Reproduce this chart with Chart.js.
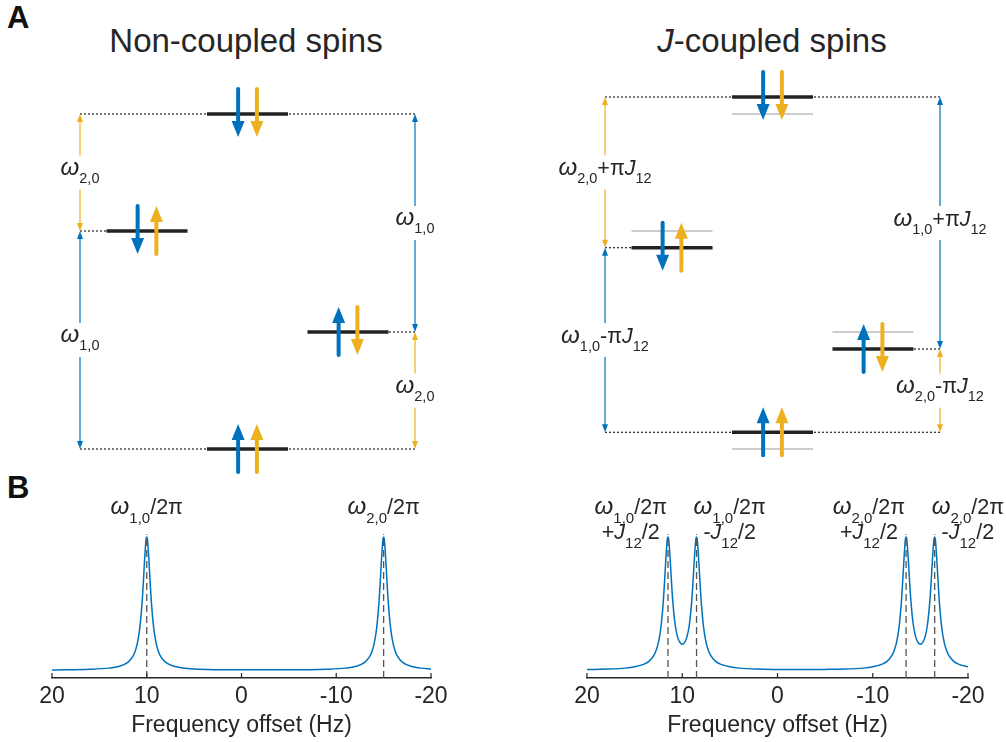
<!DOCTYPE html>
<html lang="en">
<head>
<meta charset="UTF-8">
<title>Non-coupled and J-coupled spins</title>
<script src="https://cdn.jsdelivr.net/npm/chart.js@4"></script>
<style>
  body { margin: 0; width: 1006px; height: 742px; background: #fff; position: relative; overflow: hidden;
         font-family: "Liberation Sans", Arial, Helvetica, sans-serif; color: #262626; }
  canvas { position: absolute; }
  .panel { position: absolute; font-weight: bold; font-size: 31px; line-height: 1; color: #111; }
  .title { position: absolute; font-size: 33px; line-height: 1; transform: translateX(-50%); white-space: nowrap; }
</style>
</head>
<body>
<div class="panel" style="left:7px;top:2px">A</div>
<div class="panel" style="left:7px;top:472px">B</div>
<div class="title" style="left:246px;top:24px">Non-coupled spins</div>
<div class="title" style="left:772px;top:24px"><i>J</i>-coupled spins</div>

<canvas id="diagFree" width="460" height="420" style="left:20px;top:60px"></canvas>
<canvas id="diagJ" width="460" height="420" style="left:545px;top:60px"></canvas>
<canvas id="specFree" width="470" height="260" style="left:0px;top:480px"></canvas>
<canvas id="specJ" width="471" height="260" style="left:535px;top:480px"></canvas>

<script>
const FONT = '"Liberation Sans", Arial, Helvetica, sans-serif';
const INK = '#262626';
const BLUE = '#0072BD';
const YELLOW = '#EDB120';

// ---- panel A: spin states, index 0 = αα, 1 = αβ, 2 = βα, 3 = ββ
const stateNames = ['αα', 'αβ', 'βα', 'ββ'];
const energyFree = [0, 1.17, 2.18, 3.35];
const energyJ = [0.167, 1.0, 2.013, 3.52];
const stateColumn = [5, 8, 2, 5];
const spin1Up = [true, true, false, false];
const spin2Up = [true, false, true, false];

// transitions (double arrows)
const transUpper = [3, 2, 3, 1];
const transLower = [2, 0, 1, 0];
const transColumn = [0, 0, 10, 10];
const transSpin = [2, 1, 1, 2];
const transLabelFree = ['*ω*_2,0_', '*ω*_1,0_', '*ω*_1,0_', '*ω*_2,0_'];
const transLabelJ = ['*ω*_2,0_+π*J*_12_', '*ω*_1,0_-π*J*_12_', '*ω*_1,0_+π*J*_12_', '*ω*_2,0_-π*J*_12_'];

// ---- panel B: spectra (Hz, relative intensity)
const freqFree = [-20, -19, -18, -17, -16.5, -16.25, -16, -15.75, -15.5, -15.35, -15.25, -15.1, -15.05, -15,
  -14.95, -14.9, -14.75, -14.65, -14.5, -14.25, -14, -13.75, -13.5, -13, -12, -11, -9, -5, 0, 5, 7, 8, 8.5,
  8.75, 9, 9.25, 9.5, 9.65, 9.75, 9.9, 9.95, 10, 10.05, 10.1, 10.25, 10.35, 10.5, 10.75, 11, 11.25, 11.5,
  12, 13, 14, 16, 20];
const ampFree = [0.064, 0.070, 0.081, 0.111, 0.150, 0.185, 0.244, 0.346, 0.527, 0.689, 0.811, 0.964, 0.991, 1.0,
  0.991, 0.964, 0.811, 0.689, 0.527, 0.346, 0.244, 0.185, 0.150, 0.111, 0.081, 0.070, 0.062, 0.058, 0.058, 0.064, 0.081, 0.111, 0.150,
  0.185, 0.244, 0.346, 0.527, 0.689, 0.811, 0.964, 0.991, 1.0, 0.991, 0.964, 0.811, 0.689, 0.527, 0.346, 0.244, 0.185, 0.150,
  0.111, 0.081, 0.070, 0.062, 0.057];
const peaksFree = [10, -15];
const peakLabelsFree = [['*ω*_1,0_/2π'], ['*ω*_2,0_/2π']];
const peakAlignFree = ['center', 'center'];

const freqJ = [-20, -19, -18.5, -18, -17.75, -17.5, -17.25, -17, -16.85, -16.75, -16.6, -16.55, -16.5, -16.45,
  -16.4, -16.25, -16.15, -16, -15.75, -15.5, -15.25, -15, -14.75, -14.5, -14.25, -14, -13.85, -13.75, -13.6,
  -13.55, -13.5, -13.45, -13.4, -13.25, -13.15, -13, -12.75, -12.5, -12.25, -12, -11.5, -11, -10, -9, -7, -5,
  0, 2, 4, 5, 6, 6.5, 7, 7.25, 7.5, 7.75, 8, 8.15, 8.25, 8.4, 8.45, 8.5, 8.55, 8.6, 8.75, 8.85, 9, 9.25, 9.5,
  9.75, 10, 10.25, 10.5, 10.75, 11, 11.15, 11.25, 11.4, 11.45, 11.5, 11.55, 11.6, 11.75, 11.85, 12, 12.25,
  12.5, 12.75, 13, 13.5, 14, 15, 16, 18, 20];
const ampJ = [0.079, 0.098, 0.118, 0.158, 0.195, 0.253, 0.354, 0.533, 0.693, 0.812, 0.963, 0.991, 1.0, 0.991,
  0.966, 0.821, 0.704, 0.550, 0.381, 0.293, 0.252, 0.239, 0.252, 0.293, 0.381, 0.550, 0.704, 0.821, 0.966,
  0.991, 1.0, 0.991, 0.963, 0.812, 0.693, 0.533, 0.354, 0.253, 0.195, 0.158, 0.118, 0.098, 0.079, 0.070, 0.063, 0.061,
  0.060, 0.063, 0.070, 0.079, 0.098, 0.118, 0.158, 0.195, 0.253, 0.354, 0.533, 0.693, 0.812, 0.963, 0.991, 1.0, 0.991, 0.966, 0.821, 0.704, 0.550, 0.381, 0.293,
  0.252, 0.239, 0.252, 0.293, 0.381, 0.550, 0.704, 0.821, 0.966, 0.991, 1.0, 0.991, 0.963, 0.812, 0.693, 0.533, 0.354,
  0.253, 0.195, 0.158, 0.118, 0.098, 0.079, 0.070, 0.063, 0.060];
const peaksJ = [11.5, 8.5, -13.5, -16.5];
const peakLabelsJ = [
  ['*ω*_1,0_/2π', '+*J*_12_/2'],
  ['*ω*_1,0_/2π', '-*J*_12_/2'],
  ['*ω*_2,0_/2π', '+*J*_12_/2'],
  ['*ω*_2,0_/2π', '-*J*_12_/2']
];
const peakAlignJ = ['right', 'left', 'right', 'left'];
const freqTicks = [20, 10, 0, -10, -20];

// ---- rich text: *italic*, _subscript_
function parseRich(s) {
  const segs = [];
  let italic = false, sub = false, buf = '';
  const flush = () => { if (buf) segs.push({ text: buf, italic, sub }); buf = ''; };
  for (const ch of s) {
    if (ch === '*') { flush(); italic = !italic; }
    else if (ch === '_') { flush(); sub = !sub; }
    else buf += ch;
  }
  flush();
  return segs;
}
function segFont(seg, st) {
  // the omega in the original is drawn a little larger than the latin text
  const size = seg.sub ? st.subSize : (seg.text === 'ω' ? st.size * 1.12 : st.size);
  return (seg.italic ? 'italic ' : '') + size + 'px ' + FONT;
}
function measureRich(ctx, segs, st) {
  let w = 0, top = 0, bottom = 0;
  segs.forEach(seg => {
    ctx.font = segFont(seg, st);
    const m = ctx.measureText(seg.text);
    const shift = seg.sub ? st.subShift : 0;
    seg.w = m.width;
    top = Math.min(top, shift - m.actualBoundingBoxAscent);
    bottom = Math.max(bottom, shift + m.actualBoundingBoxDescent);
    w += m.width;
  });
  return { w, top, bottom };
}
function drawRich(ctx, segs, x, y, st) {
  ctx.fillStyle = INK;
  ctx.textAlign = 'left';
  ctx.textBaseline = 'alphabetic';
  let cx = x;
  segs.forEach(seg => {
    ctx.font = segFont(seg, st);
    ctx.fillText(seg.text, cx, y + (seg.sub ? st.subShift : 0));
    cx += seg.w;
  });
}

const DIAG_TEXT = { size: 21.5, subSize: 14.5, subShift: 8 };
const SPEC_TEXT = { size: 21.5, subSize: 15, subShift: 9 };

// ---- drawing helpers for panel A
function doubleArrow(ctx, x, yTop, yBot, color) {
  const hl = 8, hw = 3;
  ctx.save();
  ctx.strokeStyle = color; ctx.fillStyle = color; ctx.lineWidth = 1.2;
  ctx.beginPath(); ctx.moveTo(x, yTop + hl - 1); ctx.lineTo(x, yBot - hl + 1); ctx.stroke();
  ctx.beginPath(); ctx.moveTo(x, yTop); ctx.lineTo(x - hw, yTop + hl); ctx.lineTo(x + hw, yTop + hl); ctx.closePath(); ctx.fill();
  ctx.beginPath(); ctx.moveTo(x, yBot); ctx.lineTo(x - hw, yBot - hl); ctx.lineTo(x + hw, yBot - hl); ctx.closePath(); ctx.fill();
  ctx.restore();
}
function spinArrow(ctx, x, cy, up, color) {
  const top = cy - 25, bot = cy + 23, hl = 16, hw = 6.5;
  const tip = up ? top : bot, tail = up ? bot : top, dir = up ? 1 : -1;
  ctx.save();
  ctx.strokeStyle = color; ctx.fillStyle = color; ctx.lineWidth = 4; ctx.lineCap = 'round';
  ctx.beginPath(); ctx.moveTo(x, tail); ctx.lineTo(x, tip + dir * (hl - 2)); ctx.stroke();
  ctx.beginPath(); ctx.moveTo(x, tip); ctx.lineTo(x - hw, tip + dir * hl); ctx.lineTo(x + hw, tip + dir * hl); ctx.closePath(); ctx.fill();
  ctx.restore();
}

const SPIN_OFFSET = 0.28;
const LEVEL_HALF = 1.21;

const diagramOverlay = {
  id: 'diagramOverlay',
  afterDatasetsDraw(chart, args, opts) {
    const { ctx, scales: { x, y } } = chart;
    const E = opts.energy;
    transUpper.forEach((u, i) => {
      const px = x.getPixelForValue(transColumn[i]);
      const yTop = y.getPixelForValue(E[u]);
      const yBot = y.getPixelForValue(E[transLower[i]]);
      doubleArrow(ctx, px, yTop, yBot, transSpin[i] === 1 ? BLUE : YELLOW);
      const segs = parseRich(opts.labels[i]);
      const m = measureRich(ctx, segs, DIAG_TEXT);
      const mid = (yTop + yBot) / 2;
      const base = mid - (m.top + m.bottom) / 2;
      ctx.fillStyle = '#fff';
      ctx.fillRect(px - m.w / 2 - 2, mid - 17, m.w + 4, 34);
      drawRich(ctx, segs, px - m.w / 2, base, DIAG_TEXT);
    });
    E.forEach((e, s) => {
      const cx = x.getPixelForValue(stateColumn[s]);
      const cy = y.getPixelForValue(e);
      const dx = x.getPixelForValue(stateColumn[s] + SPIN_OFFSET) - cx;
      spinArrow(ctx, cx - dx, cy, spin1Up[s], BLUE);
      spinArrow(ctx, cx + dx, cy, spin2Up[s], YELLOW);
    });
  }
};

function diagram(id, energy, labels, reference) {
  const datasets = [];
  const guides = new Set();
  transUpper.forEach((u, i) => {
    guides.add(u + ':' + transColumn[i]);
    guides.add(transLower[i] + ':' + transColumn[i]);
  });
  guides.forEach(g => {
    const [s, col] = g.split(':').map(Number);
    const edge = col < stateColumn[s] ? stateColumn[s] - LEVEL_HALF : stateColumn[s] + LEVEL_HALF;
    datasets.push({ data: [{ x: col, y: energy[s] }, { x: edge, y: energy[s] }], showLine: true,
      borderColor: '#222', borderWidth: 1.2, borderDash: [2, 2], pointRadius: 0, order: 3 });
  });
  if (reference) {
    reference.forEach((e, s) => datasets.push({
      data: [{ x: stateColumn[s] - LEVEL_HALF, y: e }, { x: stateColumn[s] + LEVEL_HALF, y: e }], showLine: true,
      borderColor: '#bdbdbd', borderWidth: 1.5, pointRadius: 0, order: 2 }));
  }
  energy.forEach((e, s) => datasets.push({
    label: stateNames[s],
    data: [{ x: stateColumn[s] - LEVEL_HALF, y: e }, { x: stateColumn[s] + LEVEL_HALF, y: e }], showLine: true,
    borderColor: '#222', borderWidth: 3.5, borderCapStyle: 'butt', pointRadius: 0, order: 1 }));

  new Chart(document.getElementById(id), {
    type: 'scatter',
    data: { datasets },
    options: {
      responsive: false, animation: false, events: [],
      layout: { padding: 0 },
      plugins: { legend: { display: false }, tooltip: { enabled: false },
        diagramOverlay: { energy, labels } },
      scales: {
        x: { display: false, min: -1.791, max: 11.94 },
        y: { display: false, min: -0.31, max: 3.89 }
      }
    },
    plugins: [diagramOverlay]
  });
}

// ---- panel B
const peakOverlay = {
  id: 'peakOverlay',
  afterDatasetsDraw(chart, args, opts) {
    const { ctx, scales: { x, y } } = chart;
    ctx.save();
    ctx.strokeStyle = INK; ctx.lineWidth = 1.2;
    x.ticks.forEach(t => {
      const px = x.getPixelForValue(t.value);
      ctx.beginPath(); ctx.moveTo(px, x.top); ctx.lineTo(px, x.top - 5); ctx.stroke();
    });
    ctx.restore();
    const peakY = y.getPixelForValue(Math.max(...opts.amp));
    opts.peaks.forEach((p, i) => {
      const px = x.getPixelForValue(p);
      const lines = opts.labels[i].map(parseRich);
      const widths = lines.map(segs => measureRich(ctx, segs, SPEC_TEXT).w);
      const W = Math.max(...widths);
      const align = opts.align[i];
      const left = align === 'right' ? px - 1 - W : align === 'left' ? px - 3 : px - W / 2;
      lines.forEach((segs, k) => drawRich(ctx, segs, left + (W - widths[k]) / 2, peakY - 23 + k * 25, SPEC_TEXT));
    });
  }
};

function spectrum(id, freq, amp, peaks, labels, align) {
  const datasets = [{
    data: freq.map((f, i) => ({ x: f, y: amp[i] })),
    borderColor: BLUE, borderWidth: 1.5, pointRadius: 0,
    cubicInterpolationMode: 'monotone', order: 1
  }];
  peaks.forEach(p => datasets.push({
    data: [{ x: p, y: 0 }, { x: p, y: 1.02 }],
    borderColor: '#555', borderWidth: 1.3, borderDash: [7, 4], pointRadius: 0, order: 0
  }));
  new Chart(document.getElementById(id), {
    type: 'line',
    data: { datasets },
    options: {
      responsive: false, animation: false, events: [],
      layout: { padding: { left: 52, right: id === 'specJ' ? 38 : 39, top: 20, bottom: 1 } },
      plugins: { legend: { display: false }, tooltip: { enabled: false },
        peakOverlay: { peaks, labels, align, amp } },
      scales: {
        x: {
          type: 'linear', reverse: true, min: -20, max: 20,
          afterBuildTicks: s => { s.ticks = freqTicks.map(v => ({ value: v })); },
          ticks: { color: INK, font: { size: 23, family: FONT }, padding: 5, maxRotation: 0 },
          grid: { display: false, drawTicks: false },
          border: { display: true, color: INK, width: 1.5 },
          title: { display: true, text: 'Frequency offset (Hz)', color: INK,
                   font: { size: 23, family: FONT }, padding: { top: 0, bottom: 0 } },
          afterFit: s => { s.height = 61; }
        },
        y: { display: false, min: 0, max: 1.262 }
      }
    },
    plugins: [peakOverlay]
  });
}

diagram('diagFree', energyFree, transLabelFree, null);
diagram('diagJ', energyJ, transLabelJ, energyFree);
spectrum('specFree', freqFree, ampFree, peaksFree, peakLabelsFree, peakAlignFree);
spectrum('specJ', freqJ, ampJ, peaksJ, peakLabelsJ, peakAlignJ);
</script>
</body>
</html>
